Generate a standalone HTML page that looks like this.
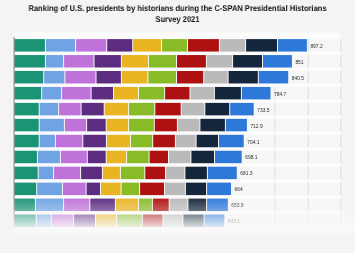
<!DOCTYPE html>
<html><head><meta charset="utf-8"><style>
html,body{margin:0;padding:0;background:#f4f4f4;width:355px;height:253px;overflow:hidden}
svg{display:block;will-change:transform}
text{font-family:"Liberation Sans",sans-serif}
.tt{position:absolute;left:0.1px;width:355px;text-align:center;font-family:"Liberation Sans",sans-serif;font-weight:bold;font-size:8.4px;line-height:12px;color:#111;transform:scaleX(0.9);text-rendering:geometricPrecision;will-change:transform;white-space:nowrap}
</style></head><body>
<svg width="355" height="253" viewBox="0 0 355 253">
<defs>
<linearGradient id="fade" x1="0" y1="0" x2="0" y2="1">
<stop offset="0" stop-color="#f9f9f9" stop-opacity="0"/>
<stop offset="0.0526" stop-color="#f9f9f9" stop-opacity="0.06"/>
<stop offset="0.263" stop-color="#f9f9f9" stop-opacity="0.33"/>
<stop offset="0.333" stop-color="#f9f9f9" stop-opacity="0.47"/>
<stop offset="0.544" stop-color="#f9f9f9" stop-opacity="0.86"/>
<stop offset="0.614" stop-color="#f9f9f9" stop-opacity="0.95"/>
<stop offset="0.72" stop-color="#f4f4f4" stop-opacity="1"/>
<stop offset="1" stop-color="#f4f4f4" stop-opacity="1"/>
</linearGradient>
<linearGradient id="fade2" x1="0" y1="0" x2="0" y2="1">
<stop offset="0" stop-color="#fafafa" stop-opacity="1"/>
<stop offset="1" stop-color="#f4f4f4" stop-opacity="1"/>
</linearGradient>
</defs>

<rect x="14" y="32" width="327" height="199" fill="#f6f6f6"/><rect x="274.5" y="32" width="1" height="194" fill="#dcdcdc"/><rect x="307.8" y="32" width="1" height="194" fill="#dcdcdc"/><rect x="340.3" y="32" width="1" height="194" fill="#dcdcdc"/><rect x="14" y="32.5" width="327.5" height="6.60" fill="#fbfbfb"/><rect x="14" y="51.55" width="327.5" height="3.50" fill="#fbfbfb"/><rect x="14" y="67.50" width="327.5" height="3.50" fill="#fbfbfb"/><rect x="14" y="83.45" width="327.5" height="3.50" fill="#fbfbfb"/><rect x="14" y="99.40" width="327.5" height="3.50" fill="#fbfbfb"/><rect x="14" y="115.35" width="327.5" height="3.50" fill="#fbfbfb"/><rect x="14" y="131.30" width="327.5" height="3.50" fill="#fbfbfb"/><rect x="14" y="147.25" width="327.5" height="3.50" fill="#fbfbfb"/><rect x="14" y="163.20" width="327.5" height="3.50" fill="#fbfbfb"/><rect x="14" y="179.15" width="327.5" height="3.50" fill="#fbfbfb"/><rect x="14" y="195.10" width="327.5" height="3.50" fill="#fbfbfb"/><rect x="14" y="211.05" width="327.5" height="3.50" fill="#fbfbfb"/><rect x="14" y="227.00" width="327.5" height="3.50" fill="#fbfbfb"/><rect x="14.50" y="39.10" width="30.40" height="12.45" fill="#1a9474"/><rect x="45.90" y="39.10" width="29.20" height="12.45" fill="#6fa3e3"/><rect x="76.10" y="39.10" width="30.10" height="12.45" fill="#bf72da"/><rect x="107.20" y="39.10" width="25.00" height="12.45" fill="#5b2c80"/><rect x="133.20" y="39.10" width="27.90" height="12.45" fill="#e9b421"/><rect x="162.10" y="39.10" width="24.90" height="12.45" fill="#87bc27"/><rect x="188.00" y="39.10" width="30.90" height="12.45" fill="#ae1111"/><rect x="219.90" y="39.10" width="25.20" height="12.45" fill="#bababa"/><rect x="246.10" y="39.10" width="30.90" height="12.45" fill="#14263b"/><rect x="278.00" y="39.10" width="28.90" height="12.45" fill="#2d78d9"/><text x="310.40" y="47.83" font-size="4.9" fill="#2e2e2e">897.2</text><rect x="14.50" y="55.05" width="30.40" height="12.45" fill="#1a9474"/><rect x="45.90" y="55.05" width="17.20" height="12.45" fill="#6fa3e3"/><rect x="64.10" y="55.05" width="29.40" height="12.45" fill="#bf72da"/><rect x="94.50" y="55.05" width="26.40" height="12.45" fill="#5b2c80"/><rect x="121.90" y="55.05" width="26.00" height="12.45" fill="#e9b421"/><rect x="148.90" y="55.05" width="27.10" height="12.45" fill="#87bc27"/><rect x="177.00" y="55.05" width="28.90" height="12.45" fill="#ae1111"/><rect x="206.90" y="55.05" width="25.20" height="12.45" fill="#bababa"/><rect x="233.10" y="55.05" width="28.90" height="12.45" fill="#14263b"/><rect x="263.00" y="55.05" width="28.90" height="12.45" fill="#2d78d9"/><text x="295.40" y="63.77" font-size="4.9" fill="#2e2e2e">851</text><rect x="14.50" y="71.00" width="28.70" height="12.45" fill="#1a9474"/><rect x="44.20" y="71.00" width="20.20" height="12.45" fill="#6fa3e3"/><rect x="65.40" y="71.00" width="30.10" height="12.45" fill="#bf72da"/><rect x="96.50" y="71.00" width="24.40" height="12.45" fill="#5b2c80"/><rect x="121.90" y="71.00" width="25.50" height="12.45" fill="#e9b421"/><rect x="148.40" y="71.00" width="27.60" height="12.45" fill="#87bc27"/><rect x="177.00" y="71.00" width="26.20" height="12.45" fill="#ae1111"/><rect x="204.20" y="71.00" width="23.40" height="12.45" fill="#bababa"/><rect x="228.60" y="71.00" width="29.20" height="12.45" fill="#14263b"/><rect x="258.80" y="71.00" width="29.40" height="12.45" fill="#2d78d9"/><text x="291.70" y="79.72" font-size="4.9" fill="#2e2e2e">840.5</text><rect x="14.50" y="86.95" width="26.70" height="12.45" fill="#1a9474"/><rect x="42.20" y="86.95" width="18.90" height="12.45" fill="#6fa3e3"/><rect x="62.10" y="86.95" width="28.50" height="12.45" fill="#bf72da"/><rect x="91.60" y="86.95" width="21.40" height="12.45" fill="#5b2c80"/><rect x="114.00" y="86.95" width="23.90" height="12.45" fill="#e9b421"/><rect x="138.90" y="86.95" width="25.20" height="12.45" fill="#87bc27"/><rect x="165.10" y="86.95" width="24.40" height="12.45" fill="#ae1111"/><rect x="190.50" y="86.95" width="23.40" height="12.45" fill="#bababa"/><rect x="214.90" y="86.95" width="26.00" height="12.45" fill="#14263b"/><rect x="241.90" y="86.95" width="28.60" height="12.45" fill="#2d78d9"/><text x="274.00" y="95.67" font-size="4.9" fill="#2e2e2e">784.7</text><rect x="14.50" y="102.90" width="24.20" height="12.45" fill="#1a9474"/><rect x="39.70" y="102.90" width="18.40" height="12.45" fill="#6fa3e3"/><rect x="59.10" y="102.90" width="21.50" height="12.45" fill="#bf72da"/><rect x="81.60" y="102.90" width="22.10" height="12.45" fill="#5b2c80"/><rect x="104.70" y="102.90" width="23.40" height="12.45" fill="#e9b421"/><rect x="129.10" y="102.90" width="25.20" height="12.45" fill="#87bc27"/><rect x="155.30" y="102.90" width="25.40" height="12.45" fill="#ae1111"/><rect x="181.70" y="102.90" width="22.60" height="12.45" fill="#bababa"/><rect x="205.30" y="102.90" width="23.90" height="12.45" fill="#14263b"/><rect x="230.20" y="102.90" width="23.50" height="12.45" fill="#2d78d9"/><text x="257.20" y="111.62" font-size="4.9" fill="#2e2e2e">733.5</text><rect x="14.50" y="118.85" width="24.20" height="12.45" fill="#1a9474"/><rect x="39.70" y="118.85" width="24.20" height="12.45" fill="#6fa3e3"/><rect x="64.90" y="118.85" width="21.20" height="12.45" fill="#bf72da"/><rect x="87.10" y="118.85" width="18.60" height="12.45" fill="#5b2c80"/><rect x="106.70" y="118.85" width="21.40" height="12.45" fill="#e9b421"/><rect x="129.10" y="118.85" width="24.70" height="12.45" fill="#87bc27"/><rect x="154.80" y="118.85" width="22.10" height="12.45" fill="#ae1111"/><rect x="177.90" y="118.85" width="21.50" height="12.45" fill="#bababa"/><rect x="200.40" y="118.85" width="24.50" height="12.45" fill="#14263b"/><rect x="225.90" y="118.85" width="21.00" height="12.45" fill="#2d78d9"/><text x="250.40" y="127.57" font-size="4.9" fill="#2e2e2e">712.9</text><rect x="14.50" y="134.80" width="24.20" height="12.45" fill="#1a9474"/><rect x="39.70" y="134.80" width="15.20" height="12.45" fill="#6fa3e3"/><rect x="55.90" y="134.80" width="26.40" height="12.45" fill="#bf72da"/><rect x="83.30" y="134.80" width="22.60" height="12.45" fill="#5b2c80"/><rect x="106.90" y="134.80" width="23.00" height="12.45" fill="#e9b421"/><rect x="130.90" y="134.80" width="21.30" height="12.45" fill="#87bc27"/><rect x="153.20" y="134.80" width="21.70" height="12.45" fill="#ae1111"/><rect x="175.90" y="134.80" width="19.70" height="12.45" fill="#bababa"/><rect x="196.60" y="134.80" width="21.40" height="12.45" fill="#14263b"/><rect x="219.00" y="134.80" width="24.70" height="12.45" fill="#2d78d9"/><text x="247.20" y="143.52" font-size="4.9" fill="#2e2e2e">704.1</text><rect x="14.50" y="150.75" width="22.40" height="12.45" fill="#1a9474"/><rect x="37.90" y="150.75" width="22.00" height="12.45" fill="#6fa3e3"/><rect x="60.90" y="150.75" width="25.90" height="12.45" fill="#bf72da"/><rect x="87.80" y="150.75" width="17.90" height="12.45" fill="#5b2c80"/><rect x="106.70" y="150.75" width="19.40" height="12.45" fill="#e9b421"/><rect x="127.10" y="150.75" width="21.50" height="12.45" fill="#87bc27"/><rect x="149.60" y="150.75" width="18.40" height="12.45" fill="#ae1111"/><rect x="169.00" y="150.75" width="21.40" height="12.45" fill="#bababa"/><rect x="191.40" y="150.75" width="22.60" height="12.45" fill="#14263b"/><rect x="215.00" y="150.75" width="26.70" height="12.45" fill="#2d78d9"/><text x="245.20" y="159.47" font-size="4.9" fill="#2e2e2e">698.1</text><rect x="14.50" y="166.70" width="23.20" height="12.45" fill="#1a9474"/><rect x="38.70" y="166.70" width="14.40" height="12.45" fill="#6fa3e3"/><rect x="54.10" y="166.70" width="26.00" height="12.45" fill="#bf72da"/><rect x="81.10" y="166.70" width="20.80" height="12.45" fill="#5b2c80"/><rect x="102.90" y="166.70" width="17.00" height="12.45" fill="#e9b421"/><rect x="120.90" y="166.70" width="23.40" height="12.45" fill="#87bc27"/><rect x="145.30" y="166.70" width="19.70" height="12.45" fill="#ae1111"/><rect x="166.00" y="166.70" width="18.40" height="12.45" fill="#bababa"/><rect x="185.40" y="166.70" width="21.50" height="12.45" fill="#14263b"/><rect x="207.90" y="166.70" width="28.90" height="12.45" fill="#2d78d9"/><text x="240.30" y="175.42" font-size="4.9" fill="#2e2e2e">681.3</text><rect x="14.50" y="182.65" width="21.70" height="12.45" fill="#1a9474"/><rect x="37.20" y="182.65" width="24.70" height="12.45" fill="#6fa3e3"/><rect x="62.90" y="182.65" width="22.70" height="12.45" fill="#bf72da"/><rect x="86.60" y="182.65" width="13.40" height="12.45" fill="#5b2c80"/><rect x="101.00" y="182.65" width="19.60" height="12.45" fill="#e9b421"/><rect x="121.60" y="182.65" width="17.50" height="12.45" fill="#87bc27"/><rect x="140.10" y="182.65" width="23.90" height="12.45" fill="#ae1111"/><rect x="165.00" y="182.65" width="19.90" height="12.45" fill="#bababa"/><rect x="185.90" y="182.65" width="20.20" height="12.45" fill="#14263b"/><rect x="207.10" y="182.65" width="23.90" height="12.45" fill="#2d78d9"/><text x="234.50" y="191.37" font-size="4.9" fill="#2e2e2e">664</text><rect x="14.50" y="198.60" width="20.40" height="12.45" fill="#1a9474"/><rect x="35.90" y="198.60" width="27.20" height="12.45" fill="#6fa3e3"/><rect x="64.10" y="198.60" width="25.20" height="12.45" fill="#bf72da"/><rect x="90.30" y="198.60" width="24.60" height="12.45" fill="#5b2c80"/><rect x="115.90" y="198.60" width="22.00" height="12.45" fill="#e9b421"/><rect x="138.90" y="198.60" width="13.00" height="12.45" fill="#87bc27"/><rect x="152.90" y="198.60" width="15.80" height="12.45" fill="#ae1111"/><rect x="169.70" y="198.60" width="17.70" height="12.45" fill="#bababa"/><rect x="188.40" y="198.60" width="17.70" height="12.45" fill="#14263b"/><rect x="207.10" y="198.60" width="20.70" height="12.45" fill="#2d78d9"/><text x="231.30" y="207.32" font-size="4.9" fill="#2e2e2e">653.9</text><rect x="14.50" y="214.55" width="21.20" height="12.45" fill="#1a9474"/><rect x="36.70" y="214.55" width="14.00" height="12.45" fill="#6fa3e3"/><rect x="51.70" y="214.55" width="21.40" height="12.45" fill="#bf72da"/><rect x="74.10" y="214.55" width="20.90" height="12.45" fill="#5b2c80"/><rect x="96.00" y="214.55" width="20.20" height="12.45" fill="#e9b421"/><rect x="117.20" y="214.55" width="24.60" height="12.45" fill="#87bc27"/><rect x="142.80" y="214.55" width="19.60" height="12.45" fill="#ae1111"/><rect x="163.40" y="214.55" width="19.00" height="12.45" fill="#bababa"/><rect x="183.40" y="214.55" width="20.20" height="12.45" fill="#14263b"/><rect x="204.60" y="214.55" width="19.70" height="12.45" fill="#2d78d9"/><text x="227.80" y="223.27" font-size="4.9" fill="#2e2e2e">643.1</text><rect x="13.7" y="37" width="0.8" height="194" fill="#606060"/>
<rect x="13" y="196" width="342" height="57" fill="url(#fade)"/>
</svg>
<div class="tt" style="top:1.9px">Ranking of U.S. presidents by historians during the C-SPAN Presidential Historians</div>
<div class="tt" style="top:13.2px">Survey 2021</div>
</body></html>
